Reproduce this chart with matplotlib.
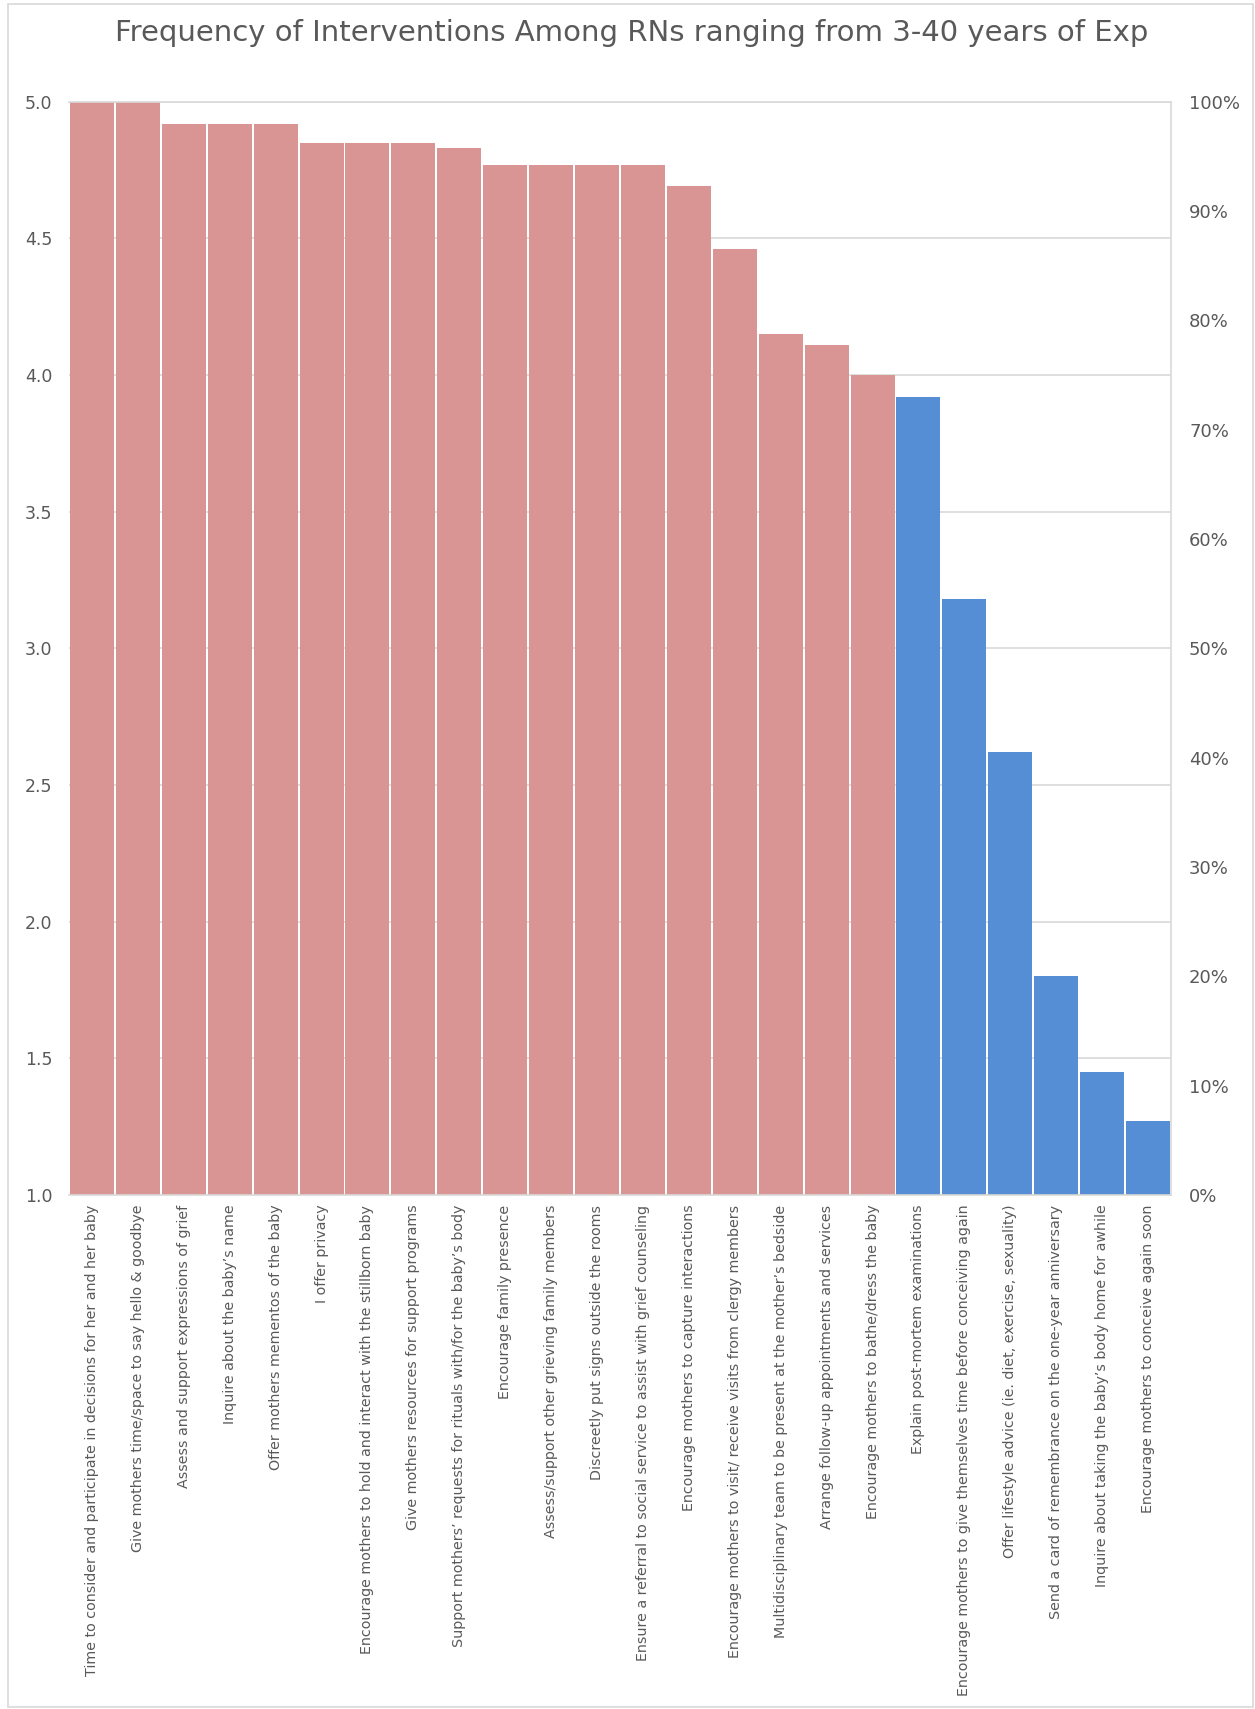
import numpy as np
import matplotlib
matplotlib.use("Agg")
import matplotlib.pyplot as plt
from matplotlib.patches import Rectangle
from matplotlib.ticker import FuncFormatter

# Interventions, sorted by mean frequency score
interventions = [
    "Time to consider and participate in decisions for her and her baby",
    "Give mothers time/space to say hello & goodbye",
    "Assess and support expressions of grief",
    "Inquire about the baby\u2019s name",
    "Offer mothers mementos of the baby",
    "I offer privacy",
    "Encourage mothers to hold and interact with the stillborn baby",
    "Give mothers resources for support programs",
    "Support mothers\u2019 requests for rituals with/for the baby\u2019s body",
    "Encourage family presence",
    "Assess/support other grieving family members",
    "Discreetly put signs outside the rooms",
    "Ensure a referral to social service to assist with grief counseling",
    "Encourage mothers to capture interactions",
    "Encourage mothers to visit/ receive visits from clergy members",
    "Multidisciplinary team to be present at the mother\u2019s bedside",
    "Arrange follow-up appointments and services",
    "Encourage mothers to bathe/dress the baby",
    "Explain post-mortem examinations",
    "Encourage mothers to give themselves time before conceiving again",
    "Offer lifestyle advice (ie. diet, exercise, sexuality)",
    "Send a card of remembrance on the one-year anniversary",
    "Inquire about taking the baby\u2019s body home for awhile",
    "Encourage mothers to conceive again soon",
]
scores = [5.00, 5.00, 4.92, 4.92, 4.92, 4.85, 4.85, 4.85, 4.83, 4.77, 4.77, 4.77,
          4.77, 4.69, 4.46, 4.15, 4.11, 4.00, 3.92, 3.18, 2.62, 1.80, 1.45, 1.27]

left_ticks = [1.0, 1.5, 2.0, 2.5, 3.0, 3.5, 4.0, 4.5, 5.0]
right_ticks = [0.0, 0.1, 0.2, 0.3, 0.4, 0.5, 0.6, 0.7, 0.8, 0.9, 1.0]

high_color = "#D99594"
low_color = "#558ED5"
text_color = "#595959"
grid_color = "#D9D9D9"

W, H = 1255, 1709
fig = plt.figure(figsize=(W / 100, H / 100), dpi=100)
ax = fig.add_axes([69 / W, 1 - 1195 / H, (1171 - 69) / W, (1195 - 101.7) / H])

x = np.arange(len(scores))
colors = [high_color if s >= 4.0 else low_color for s in scores]
ax.bar(x, np.array(scores) - 1.0, bottom=1.0, width=0.96, color=colors, zorder=2)

ax.set_xlim(-0.5, len(scores) - 0.5)
ax.set_ylim(1.0, 5.0)
ax.set_yticks(left_ticks)
ax.yaxis.set_major_formatter(FuncFormatter(lambda v, p: "%.1f" % v))
ax.grid(axis="y", color=grid_color, linewidth=1.2, zorder=0)
ax.set_xticks(x)
ax.set_xticklabels(interventions, rotation=90, ha="center", va="top",
                   fontsize=10.3, color=text_color)
ax.tick_params(axis="x", length=0, pad=7)
ax.tick_params(axis="y", length=0, pad=12, labelsize=12.5, labelcolor=text_color)
for side in ["left", "bottom", "top", "right"]:
    ax.spines[side].set_color(grid_color)
    ax.spines[side].set_linewidth(1.2)
ax.spines["left"].set_visible(False)

# secondary percent axis on the right
ax2 = ax.twinx()
ax2.set_ylim(0, 1)
ax2.set_yticks(right_ticks)
ax2.yaxis.set_major_formatter(FuncFormatter(lambda v, p: "%d%%" % round(v * 100)))
ax2.tick_params(axis="y", length=0, pad=13, labelsize=13, labelcolor=text_color)
for side in ["left", "bottom", "top", "right"]:
    ax2.spines[side].set_visible(False)

fig.text(632 / W, 1 - 33 / H,
         "Frequency of Interventions Among RNs ranging from 3-40 years of Exp",
         ha="center", va="center", fontsize=21, color=text_color)

# outer chart border
fig.patches.append(Rectangle((8 / W, 2 / H), (1253 - 8) / W, (1705 - 2) / H,
                             transform=fig.transFigure, fill=False,
                             edgecolor=grid_color, linewidth=1.2))

fig.savefig("out.png", dpi=100)
